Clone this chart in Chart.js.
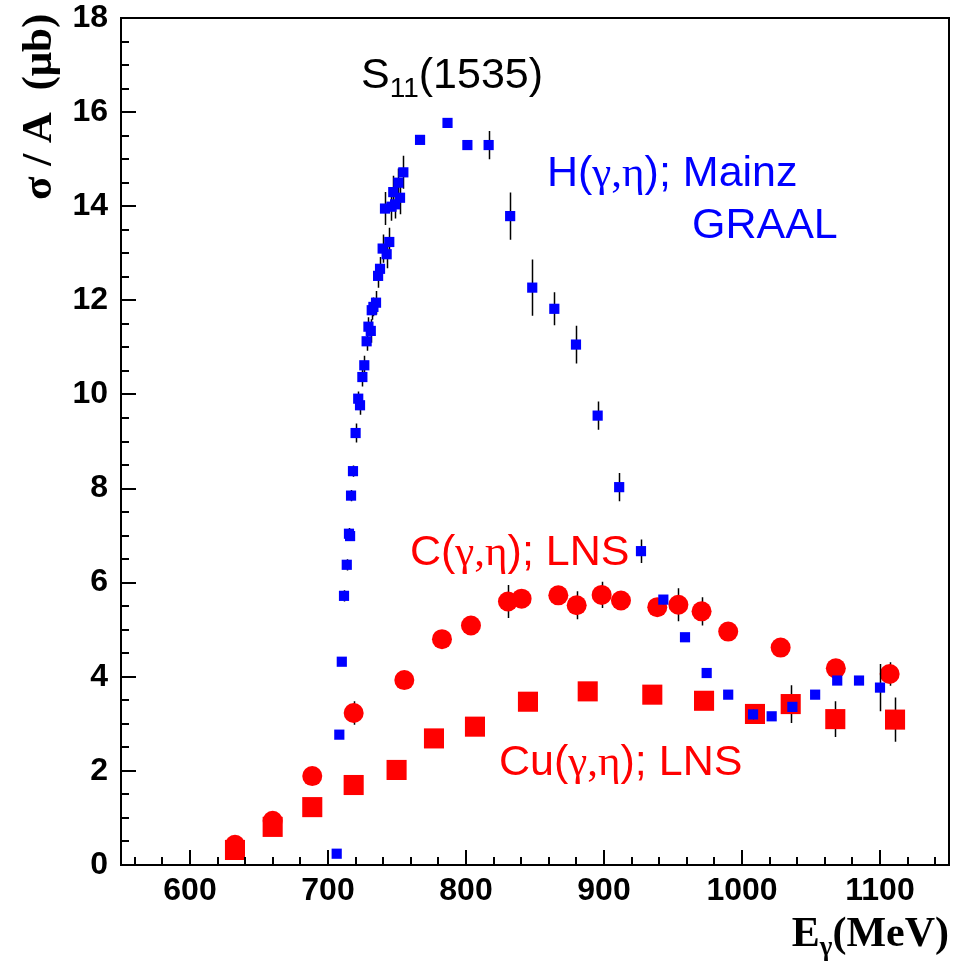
<!DOCTYPE html>
<html>
<head>
<meta charset="utf-8">
<script src="https://cdn.jsdelivr.net/npm/chart.js@4.4.1/dist/chart.umd.min.js"></script>
<style>
  html, body { margin: 0; padding: 0; background: #fff; }
  canvas { display: block; }
</style>
</head>
<body>
<canvas id="etaChart" width="965" height="963"></canvas>
<script>
// H(gamma,eta) – Mainz / GRAAL
const hEnergy = [706.3, 708.2, 710.0, 711.6, 713.6, 715.2, 716.0, 716.7, 718.1, 720.0,
  721.9, 723.2, 724.9, 726.3, 728.0, 729.3, 731.0, 731.7, 732.9, 734.8,
  736.3, 737.7, 739.6, 741.3, 742.5, 744.4, 746.0, 747.3, 748.6, 751.0,
  752.2, 754.6, 766.7, 786.6, 801.0, 816.4, 832.0, 848.0, 864.0, 879.7,
  895.4, 911.0, 926.8, 943.0, 958.7, 974.4, 990.0, 1008.0, 1021.5, 1036.5,
  1053.0, 1069.0, 1084.8, 1100.0];
const hSigma = [0.24, 2.77, 4.32, 5.72, 6.38, 7.04, 6.99, 7.85, 8.37, 9.18,
  9.91, 9.77, 10.37, 10.62, 11.13, 11.44, 11.35, 11.79, 11.86, 11.95,
  12.52, 12.67, 13.10, 13.95, 12.98, 13.24, 13.99, 14.30, 14.04, 14.50,
  14.18, 14.72, 15.41, 15.77, 15.30, 15.30, 13.79, 12.27, 11.82, 11.06,
  9.55, 8.03, 6.67, 5.64, 4.84, 4.08, 3.62, 3.20, 3.16, 3.36,
  3.62, 3.92, 3.92, 3.77];
const hError = [0, 0.05, 0.05, 0.12, 0.12, 0.12, 0.1, 0.12, 0.12, 0.2,
  0.15, 0.2, 0.2, 0.2, 0.2, 0.2, 0.25, 0.2, 0.2, 0.25,
  0.25, 0.25, 0.3, 0.35, 0.3, 0.3, 0.3, 0.35, 0.3, 0.3,
  0.35, 0.35, 0, 0, 0, 0.3, 0.5, 0.6, 0.35, 0.4,
  0.3, 0.3, 0.25, 0.1, 0.05, 0.05, 0.05, 0.1, 0.05, 0.1,
  0.05, 0.05, 0.05, 0.5];

// C(gamma,eta) – LNS
const cEnergy = [632.6, 659.9, 688.6, 718.6, 755.3, 782.6, 803.6, 830.4, 840.3, 866.9,
  880.2, 898.3, 912.3, 938.6, 953.9, 970.7, 990.0, 1028.0, 1068.0, 1107.0];
const cSigma = [0.43, 0.94, 1.89, 3.23, 3.93, 4.80, 5.09, 5.60, 5.66, 5.73,
  5.52, 5.74, 5.62, 5.48, 5.53, 5.39, 4.96, 4.62, 4.18, 4.06];
const cError = [0, 0, 0, 0.25, 0, 0, 0, 0.35, 0, 0,
  0.3, 0.28, 0, 0, 0.35, 0.3, 0, 0, 0.15, 0.25];

// Cu(gamma,eta) – LNS
const cuEnergy = [632.6, 659.9, 688.6, 718.6, 749.7, 776.8, 806.5, 844.9, 888.2, 935.0,
  972.5, 1009.4, 1035.3, 1067.6, 1110.9];
const cuSigma = [0.32, 0.81, 1.23, 1.70, 2.02, 2.69, 2.94, 3.47, 3.69, 3.62,
  3.49, 3.21, 3.42, 3.10, 3.09];
const cuError = [0, 0, 0, 0, 0, 0, 0, 0, 0, 0,
  0, 0.15, 0.4, 0.38, 0.47];

const xTicks = [600, 700, 800, 900, 1000, 1100];
const yTicks = [0, 2, 4, 6, 8, 10, 12, 14, 16, 18];

const toPoints = (xs, ys) => xs.map((x, i) => ({ x: x, y: ys[i] }));

// vertical error bars, drawn just before each dataset's markers
const errorBars = {
  id: 'errorBars',
  beforeDatasetDraw(chart, args) {
    const ds = chart.data.datasets[args.index];
    if (!ds.errors) return;
    const { ctx, scales: { x, y } } = chart;
    ctx.save();
    ctx.strokeStyle = '#000';
    ctx.lineWidth = 1.5;
    ctx.beginPath();
    ds.data.forEach((p, i) => {
      const e = ds.errors[i];
      if (!e) return;
      const px = Math.round(x.getPixelForValue(p.x)) + 0.5;
      ctx.moveTo(px, y.getPixelForValue(p.y - e));
      ctx.lineTo(px, y.getPixelForValue(p.y + e));
    });
    ctx.stroke();
    ctx.restore();
  }
};

// box frame with inward ticks
const frameTicks = {
  id: 'frameTicks',
  afterDatasetsDraw(chart) {
    const { ctx, chartArea: a, scales: { x, y } } = chart;
    ctx.save();
    ctx.strokeStyle = '#000';
    ctx.lineWidth = 2;
    ctx.strokeRect(a.left, a.top, a.right - a.left, a.bottom - a.top);
    ctx.beginPath();
    for (let v = 560; v < 1150; v += 20) {
      const px = Math.round(x.getPixelForValue(v));
      const len = v % 100 === 0 ? 15 : 8;
      ctx.moveTo(px, a.bottom);
      ctx.lineTo(px, a.bottom - len);
    }
    for (let v = 0.5; v < 18; v += 0.5) {
      const py = Math.round(y.getPixelForValue(v));
      const len = v % 2 === 0 ? 15 : 8;
      ctx.moveTo(a.left, py);
      ctx.lineTo(a.left + len, py);
    }
    ctx.stroke();
    ctx.restore();
  }
};

function drawRich(ctx, x, y, parts, color) {
  let cx = x;
  ctx.fillStyle = color;
  ctx.textAlign = 'left';
  ctx.textBaseline = 'alphabetic';
  for (const p of parts) {
    ctx.font = p.font;
    ctx.fillText(p.text, cx, y + (p.dy || 0));
    cx += ctx.measureText(p.text).width;
  }
  return cx - x;
}

const SANS = "'Liberation Sans', Arial, sans-serif";
const SERIF = "'Liberation Serif', 'Times New Roman', serif";

const labels = {
  id: 'labels',
  afterDraw(chart) {
    const ctx = chart.ctx;
    ctx.save();

    // y axis title
    ctx.save();
    ctx.translate(51, 200);
    ctx.rotate(-Math.PI / 2);
    ctx.font = 'bold 43px ' + SERIF;
    ctx.fillStyle = '#000';
    ctx.textAlign = 'left';
    ctx.textBaseline = 'alphabetic';
    ctx.fillText('\u03c3 / A  (\u03bcb)', 0, 0);
    ctx.restore();

    // x axis title, right aligned to the frame
    const xt = [
      { text: 'E', font: 'bold 42px ' + SERIF },
      { text: '\u03b3', font: 'bold 27px ' + SERIF, dy: 9 },
      { text: '(MeV)', font: 'bold 42px ' + SERIF }
    ];
    let w = 0;
    xt.forEach(p => { ctx.font = p.font; w += ctx.measureText(p.text).width; });
    drawRich(ctx, 949 - w, 946, xt, '#000');

    // resonance label
    drawRich(ctx, 361, 88, [
      { text: 'S', font: '43px ' + SANS },
      { text: '11', font: '28px ' + SANS, dy: 9 },
      { text: '(1535)', font: '43px ' + SANS }
    ], '#000');

    // data set labels
    drawRich(ctx, 547, 186, [
      { text: 'H(', font: '43px ' + SANS },
      { text: '\u03b3,\u03b7', font: '43px ' + SERIF },
      { text: '); Mainz', font: '43px ' + SANS }
    ], '#0000ff');
    drawRich(ctx, 692, 238, [{ text: 'GRAAL', font: '43px ' + SANS }], '#0000ff');

    drawRich(ctx, 410, 565, [
      { text: 'C(', font: '43px ' + SANS },
      { text: '\u03b3,\u03b7', font: '43px ' + SERIF },
      { text: '); LNS', font: '43px ' + SANS }
    ], '#ff0000');
    drawRich(ctx, 499, 775, [
      { text: 'Cu(', font: '43px ' + SANS },
      { text: '\u03b3,\u03b7', font: '43px ' + SERIF },
      { text: '); LNS', font: '43px ' + SANS }
    ], '#ff0000');

    ctx.restore();
  }
};

new Chart(document.getElementById('etaChart'), {
  type: 'scatter',
  data: {
    datasets: [
      {
        label: 'H(\u03b3,\u03b7); Mainz, GRAAL',
        data: toPoints(hEnergy, hSigma),
        errors: hError,
        pointStyle: 'rect',
        pointRadius: 7.2,
        pointBackgroundColor: '#0000ff',
        pointBorderWidth: 0,
        showLine: false
      },
      {
        label: 'C(\u03b3,\u03b7); LNS',
        data: toPoints(cEnergy, cSigma),
        errors: cError,
        pointStyle: 'circle',
        pointRadius: 10,
        pointBackgroundColor: '#ff0000',
        pointBorderWidth: 0,
        showLine: false
      },
      {
        label: 'Cu(\u03b3,\u03b7); LNS',
        data: toPoints(cuEnergy, cuSigma),
        errors: cuError,
        pointStyle: 'rect',
        pointRadius: 14.2,
        pointBackgroundColor: '#ff0000',
        pointBorderWidth: 0,
        showLine: false
      }
    ]
  },
  options: {
    responsive: false,
    animation: false,
    events: [],
    layout: { padding: { top: 0, right: 16, left: 0, bottom: 0 } },
    plugins: {
      legend: { display: false },
      tooltip: { enabled: false }
    },
    scales: {
      x: {
        type: 'linear',
        min: 550,
        max: 1150,
        grid: { display: false, drawTicks: false },
        border: { display: false },
        afterBuildTicks: s => { s.ticks = xTicks.map(v => ({ value: v })); },
        afterFit: s => { s.height = 98; },
        ticks: {
          color: '#000',
          padding: 7,
          maxRotation: 0,
          callback: v => String(v),
          font: { family: SANS, size: 32, weight: 'bold' }
        }
      },
      y: {
        type: 'linear',
        min: 0,
        max: 18,
        grid: { display: false, drawTicks: false },
        border: { display: false },
        afterBuildTicks: s => { s.ticks = yTicks.map(v => ({ value: v })); },
        afterFit: s => { s.width = 121; s.paddingTop = 18; s.paddingBottom = 0; },
        ticks: {
          color: '#000',
          padding: 13,
          callback: v => String(v),
          font: { family: SANS, size: 32, weight: 'bold' }
        }
      }
    }
  },
  plugins: [errorBars, frameTicks, labels]
});
</script>
</body>
</html>
